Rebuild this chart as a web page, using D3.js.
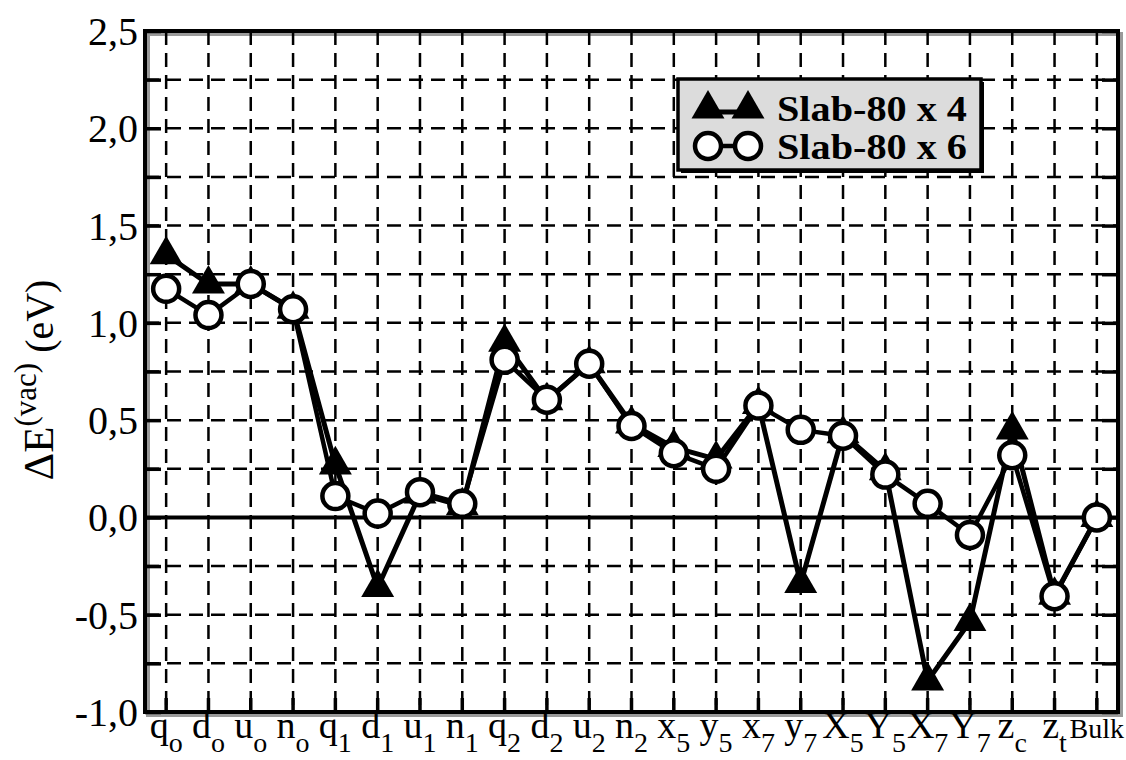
<!DOCTYPE html>
<html>
<head>
<meta charset="utf-8">
<script src="https://cdn.jsdelivr.net/npm/d3@7"></script>
<style>
  html, body { margin: 0; padding: 0; background: #fff; }
  svg { display: block; }
  text { font-family: "Liberation Serif", "Times New Roman", serif; fill: #000; }
</style>
</head>
<body>
<svg id="chart" width="1126" height="760"></svg>
<script>
// Site labels (base letter + subscript) along the x axis
const categories = ["q_o","d_o","u_o","n_o","q_1","d_1","u_1","n_1","q_2","d_2","u_2","n_2",
                    "x_5","y_5","x_7","y_7","X_5","Y_5","X_7","Y_7","z_c","z_t","Bulk"];

// Vacancy formation energy differences (eV)
const slab4 = [1.35, 1.20, 1.20, 1.07, 0.27, -0.36, 0.12, 0.06, 0.90, 0.60, 0.79, 0.48,
               0.36, 0.30, 0.58, -0.34, 0.43, 0.24, -0.84, -0.535, 0.45, -0.40, 0.0];
const slab6 = [1.175, 1.04, 1.20, 1.07, 0.11, 0.02, 0.13, 0.07, 0.81, 0.605, 0.79, 0.47,
               0.33, 0.25, 0.575, 0.45, 0.42, 0.22, 0.07, -0.09, 0.32, -0.405, 0.0];

const seriesNames = ["Slab-80 x 4", "Slab-80 x 6"];
const yTickLabels = ["-1,0", "-0,5", "0,0", "0,5", "1,0", "1,5", "2,0", "2,5"];
const yTickValues = [-1.0, -0.5, 0.0, 0.5, 1.0, 1.5, 2.0, 2.5];
const yMinorValues = d3.range(-1.0, 2.5001, 0.25);

const svg = d3.select("#chart");
const L = 145, R = 1118, T = 31, B = 712;

const x = d3.scaleBand().domain(categories).range([L, R]).paddingInner(0).paddingOuter(0);
const y = d3.scaleLinear().domain([-1.0, 2.5]).range([B, T]);
const cx = c => x(c) + x.bandwidth() / 2;

// Drop shadow of the plot frame
svg.append("rect").attr("x", L + 3).attr("y", T + 3).attr("width", R - L).attr("height", B - T)
  .attr("fill", "none").attr("stroke", "#9a9a9a").attr("stroke-width", 4);

// Dashed grid
const grid = svg.append("g");
grid.selectAll("line.h").data(yMinorValues.filter(v => v > -1.0 && v < 2.5 && Math.abs(v) > 1e-9))
  .join("line")
  .attr("x1", L).attr("x2", R)
  .attr("y1", d => y(d)).attr("y2", d => y(d))
  .attr("stroke", "#000").attr("stroke-width", 2.5).attr("stroke-dasharray", "14,8");
grid.selectAll("line.v").data(categories)
  .join("line")
  .attr("x1", d => cx(d)).attr("x2", d => cx(d))
  .attr("y1", T).attr("y2", B)
  .attr("stroke", "#000").attr("stroke-width", 2.5).attr("stroke-dasharray", "14,8");

// Zero line
svg.append("line")
  .attr("x1", L).attr("x2", R).attr("y1", y(0)).attr("y2", y(0))
  .attr("stroke", "#000").attr("stroke-width", 4);

// Axes: inward ticks on left, right and bottom
const leftAxis = d3.axisLeft(y).tickValues(yMinorValues).tickSize(-16).tickFormat("");
const rightAxis = d3.axisRight(y).tickValues(yMinorValues).tickSize(-16).tickFormat("");
const bottomAxis = d3.axisBottom(x).tickSize(-14).tickFormat("");
function styleAxis(g) {
  g.select(".domain").remove();
  g.selectAll(".tick line").attr("stroke", "#000").attr("stroke-width", 3.5);
}
svg.append("g").attr("transform", `translate(${L},0)`).call(leftAxis).call(styleAxis);
svg.append("g").attr("transform", `translate(${R},0)`).call(rightAxis).call(styleAxis);
svg.append("g").attr("transform", `translate(0,${B})`).call(bottomAxis).call(styleAxis);

// Frame
svg.append("rect").attr("x", L).attr("y", T).attr("width", R - L).attr("height", B - T)
  .attr("fill", "none").attr("stroke", "#000").attr("stroke-width", 4);

// Y tick labels
svg.append("g").selectAll("text").data(yTickValues)
  .join("text")
  .attr("x", 138).attr("y", d => y(d))
  .attr("dy", "0.35em")
  .attr("text-anchor", "end")
  .attr("font-size", 40)
  .text((d, i) => yTickLabels[i]);

// X tick labels with subscripts
const xl = svg.append("g").selectAll("text").data(categories)
  .join("text")
  .attr("x", d => cx(d)).attr("y", 738)
  .attr("text-anchor", "middle")
  .attr("font-size", d => d === "Bulk" ? 28 : 38);
xl.each(function(d) {
  const parts = d.split("_");
  const t = d3.select(this);
  t.append("tspan").text(parts[0]);
  if (parts[1]) t.append("tspan").attr("dy", 14).attr("font-size", 28).text(parts[1]);
});

// Y axis title
const yt = svg.append("text")
  .attr("transform", "translate(53,380) rotate(-90)")
  .attr("text-anchor", "middle")
  .attr("font-size", 40);
yt.append("tspan").attr("font-size", 43).text("\u0394E");
yt.append("tspan").attr("dy", -17).attr("font-size", 31).text("(vac)");
yt.append("tspan").attr("dy", 17).text(" (eV)");

// Series
const pts4 = categories.map((c, i) => [cx(c), y(slab4[i])]);
const pts6 = categories.map((c, i) => [cx(c), y(slab6[i])]);
const line = d3.line();
const triSym = d3.symbol().type(d3.symbolTriangle).size(470);

svg.append("path").attr("d", line(pts4)).attr("fill", "none")
  .attr("stroke", "#000").attr("stroke-width", 5).attr("stroke-linejoin", "round");
svg.append("g").selectAll("path").data(pts4).join("path")
  .attr("transform", d => `translate(${d[0]},${d[1]})`)
  .attr("d", triSym()).attr("fill", "#000");

svg.append("path").attr("d", line(pts6)).attr("fill", "none")
  .attr("stroke", "#000").attr("stroke-width", 4.5).attr("stroke-linejoin", "round");
svg.append("g").selectAll("circle").data(pts6).join("circle")
  .attr("cx", d => d[0]).attr("cy", d => d[1]).attr("r", 13)
  .attr("fill", "#fff").attr("stroke", "#000").attr("stroke-width", 4.5);

// Legend
const lg = svg.append("g");
lg.append("rect").attr("x", 681).attr("y", 82).attr("width", 303).attr("height", 91)
  .attr("fill", "#000");
lg.append("rect").attr("x", 678).attr("y", 79).attr("width", 303).attr("height", 91)
  .attr("fill", "#dcdcdc").attr("stroke", "#000").attr("stroke-width", 3.5);
const ly = [108, 146];
lg.append("line").attr("x1", 708).attr("x2", 748).attr("y1", ly[0] + 4).attr("y2", ly[0] + 4)
  .attr("stroke", "#000").attr("stroke-width", 5);
[708, 748].forEach(px => lg.append("path")
  .attr("transform", `translate(${px},${ly[0] + 1})`).attr("d", triSym()).attr("fill", "#000"));
lg.append("line").attr("x1", 708).attr("x2", 748).attr("y1", ly[1]).attr("y2", ly[1])
  .attr("stroke", "#000").attr("stroke-width", 4.5);
[708, 748].forEach(px => lg.append("circle").attr("cx", px).attr("cy", ly[1]).attr("r", 13)
  .attr("fill", "#fff").attr("stroke", "#000").attr("stroke-width", 4.5));
seriesNames.forEach((s, i) => lg.append("text")
  .attr("x", 777).attr("y", ly[i]).attr("dy", "0.35em")
  .attr("font-size", 36).attr("font-weight", "bold")
  .attr("textLength", 190).attr("lengthAdjust", "spacingAndGlyphs")
  .text(s));
</script>
</body>
</html>
